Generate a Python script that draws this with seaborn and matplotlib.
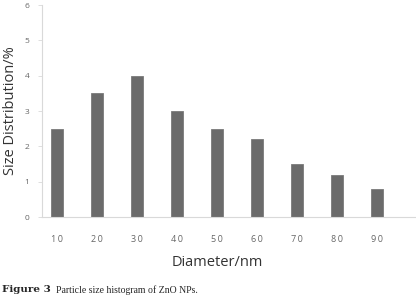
import matplotlib
matplotlib.use("Agg")
import matplotlib.pyplot as plt
import seaborn as sns
import pandas as pd

diameters = ["10", "20", "30", "40", "50", "60", "70", "80", "90"]
distribution = [2.5, 3.5, 4.0, 3.0, 2.5, 2.2, 1.5, 1.2, 0.8]
y_ticks = [0, 1, 2, 3, 4, 5, 6]

sns.set_theme(style="white")
plt.rcParams['font.family'] = ['Open Sans', 'DejaVu Sans']

df = pd.DataFrame({"Diameter": diameters, "Dist": distribution})

fig = plt.figure(figsize=(4.16, 3.0), dpi=100)
ax = fig.add_axes([42/416, 1-217/300, 374/416, 212/300])
sns.barplot(data=df, x="Diameter", y="Dist", color="#6b6b6b", width=0.28,
            saturation=1, ax=ax, edgecolor="#7a7a7a", linewidth=0.6)
ax.set_xlim(-0.375, 8.975)
ax.set_ylim(0, 6)
ax.set_yticks(y_ticks)
ax.set_yticklabels([str(v) for v in y_ticks], fontsize=6, color="#666666")
ax.set_xticks(range(len(diameters)))
ax.set_xticklabels(["\u2009".join(d) for d in diameters], fontsize=6.5, color="#666666")
for s in ["top", "right"]:
    ax.spines[s].set_visible(False)
for s in ["left", "bottom"]:
    ax.spines[s].set_color("#d9d9d9")
    ax.spines[s].set_linewidth(0.8)
ax.tick_params(axis="y", which="both", left=True, direction="out", length=3, width=0.6,
               color="#d9d9d9", pad=6)
ax.tick_params(axis="x", bottom=False, pad=7)
ax.set_xlabel("Diameter/nm", fontsize=10.5, color="#333333")
ax.xaxis.set_label_coords((217-42)/374, -(262-217)/212, transform=ax.transAxes)
ax.xaxis.label.set_va("center")
ax.set_ylabel("Size Distribution/%", fontsize=10.5, color="#333333")
ax.yaxis.set_label_coords(-(42-11)/374, 0.5, transform=ax.transAxes)
ax.yaxis.label.set_va("center")

fig.text(2/416, 1-290/300, "Figure 3", fontsize=7.5, family="DejaVu Serif", weight="bold",
         va="center", ha="left")
fig.text(56/416, 1-290/300, "Particle size histogram of ZnO NPs.", fontsize=7,
         family="Liberation Serif", va="center", ha="left")

fig.savefig("out.png", dpi=100)
